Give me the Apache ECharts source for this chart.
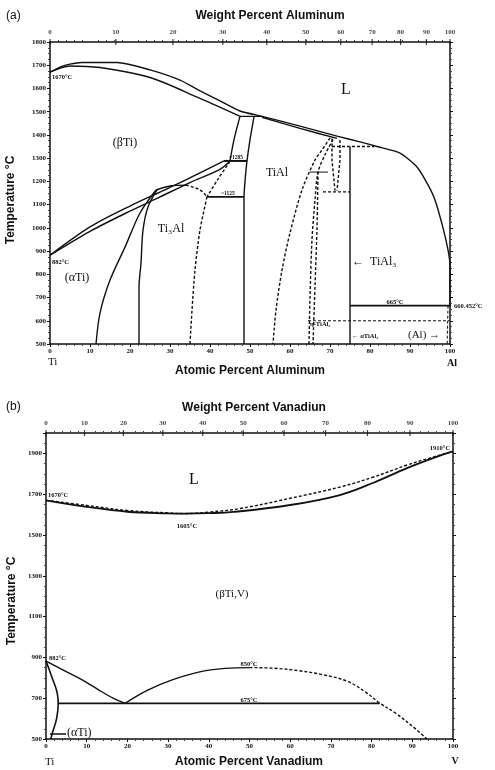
<!DOCTYPE html>
<html>
<head>
<meta charset="utf-8">
<script src="https://cdn.jsdelivr.net/npm/echarts@6/dist/echarts.min.js"></script>
<style>html,body{margin:0;padding:0;background:#fff}#chart{width:495px;height:770px}</style>
</head>
<body>
<div id="chart"></div>
<script>
// weight-percent tick labels on the top axes
var weightTicks = [0, 10, 20, 30, 40, 50, 60, 70, 80, 90, 100];

// (a) Ti-Al : [atomic % Al, temperature °C]
var alLiquidus = [[0,1670],[2.5,1692],[5,1705],[8,1712],[16.75,1712],[25,1680],[32.5,1636],[37.5,1590],[42.5,1547],[47.5,1503],[53,1480],[62.5,1438],[71.75,1395],[77.5,1370],[81.75,1350],[87.5,1322],[91.75,1262],[94.5,1185],[96.25,1120],[98.25,1000],[99.5,905],[100,840],[100,660]];
var alBetaSolidus = [[0,1670],[5,1697],[12.5,1690],[25,1647],[37.5,1557],[47.5,1480]];
var alPeritectic = [[47.5,1480],[53,1480]];
var alAlphaSolidus = [[53,1476],[62.5,1428],[71.75,1385]];
var alTransusHi = [[0,882],[10,1004],[20,1094],[27.5,1154],[35,1215],[43.5,1288]];
var alTransusLo = [[0,882],[10,985],[20,1072],[27.5,1133],[35,1195],[42.5,1252],[45,1288]];
var alAlphaBound = [[45,1288],[46,1380],[47.5,1480]];
var al1285 = [[43.5,1288],[49.25,1288]];
var alTiAlLeft = [[51,1478],[50,1380],[49.25,1288],[48.75,1200],[48.5,1133],[48.5,500]];
var alAlphaDash = [[45,1286],[42,1210],[39.25,1133]];
var al1125 = [[39.25,1133],[48.5,1133]];
var alTi3AlOuter = [[26.5,1163],[22.5,1064],[18.75,917],[15,775],[12.5,633],[11.5,500]];
var alTi3AlInner = [[26.75,1163],[24.5,1090],[23.25,990],[22.75,848],[22.25,745],[22.25,500]];
var alTi3AlTop = [[26.5,1163],[30,1180],[34,1184]];
var alTi3AlTopDash = [[34,1184],[37.5,1163],[39.25,1133]];
var alTi3AlRight = [[39.25,1133],[37.5,991],[36.25,818],[35.5,646],[35,500]];
var alTiAlRight = [[70,1387],[68,1335],[66.25,1292],[63,1163],[60,978],[58,818],[56.5,646],[55.75,500]];
var alTiAl2Left = [[70.75,1380],[68.75,1315],[67,1240],[66.25,1120],[65.5,950],[65,700],[64.75,500]];
var alTiAl2Right = [[67,1240],[66.75,1000],[66.25,750],[65.75,500]];
var alTiAl2Top = [[65,1240],[69.5,1240]];
var alZetaLeft = [[70.5,1385],[70.5,1290],[71.25,1160]];
var alZetaRight = [[72.5,1378],[72.5,1290],[71.75,1160]];
var alZetaBase = [[68.25,1155],[75,1155]];
var alTiAl3 = [[75,1350],[75,500]];
var alPeritectic2 = [[70.5,1350],[81,1350]];
var al665 = [[75,665],[100,665]];
var al600 = [[64.5,600],[100,600]];
var alSolvus = [[99.5,665],[99.3,500]];

// (b) Ti-V : [atomic % V, temperature °C]
var vLiquidus = [[0,1670],[10,1645],[20,1620],[30,1608],[34,1605],[40,1612],[47.7,1630],[60,1680],[72.2,1735],[80.3,1783],[88.7,1843],[95.1,1882],[100,1910]];
var vSolidus = [[0,1670],[10,1638],[20,1614],[30,1606],[34,1605],[40,1607],[46,1613],[60,1647],[72.2,1696],[80.3,1755],[88.7,1828],[95.1,1877],[100,1910]];
var vBetaTransus = [[0,882],[4,840],[9,789],[13,740],[16.5,700],[19.4,675]];
var vGapSolid = [[19.4,675],[25,740],[31,790],[37.5,828],[44,846],[50,850]];
var vGapDash = [[50,850],[56,847],[62,835],[68,815],[74,783],[78.5,730],[82,676],[86,625],[90,563],[93.6,500]];
var v675 = [[3,675],[82,675]];
var vAlpha = [[0,882],[1.5,800],[2.8,720],[3,675],[2.6,600],[1.5,525],[1.2,500]];

var chart = echarts.init(document.getElementById('chart'));

function wtToAtAl(w) { var a = w / 26.98, b = (100 - w) / 47.87; return 100 * a / (a + b); }
function wtToAtV(w) { var a = w / 50.94, b = (100 - w) / 47.87; return 100 * a / (a + b); }

var serif = '"Liberation Serif", "DejaVu Serif", serif';
var sans = '"Liberation Sans", Arial, sans-serif';

function line(data, g, dash, smooth, width) {
    return {
        type: 'line', xAxisIndex: g * 2, yAxisIndex: g * 2, data: data,
        showSymbol: false, symbol: 'none', silent: true, smooth: smooth || false,
        lineStyle: { color: '#111', width: width || 1.4, type: dash ? [3, 2] : 'solid' }
    };
}

function topTicks(conv, g, yTop) {
    return {
        type: 'scatter', xAxisIndex: g * 2 + 1, yAxisIndex: g * 2, silent: true, clip: false, z: 5,
        data: weightTicks.map(function (w) { return [conv(w), yTop, w]; }),
        symbol: 'rect', symbolSize: [1.2, 6], itemStyle: { color: '#111' },
        label: {
            show: true, position: 'top', distance: 3, color: '#111',
            fontSize: 7, fontFamily: serif, fontWeight: 'bold',
            formatter: function (p) { return p.data[2]; }
        }
    };
}

function plain(v) { return String(v); }

function xAx(g, pos, labels) {
    return {
        type: 'value', gridIndex: g, position: pos, min: 0, max: 100, interval: 10,
        axisLine: { show: true, onZero: false, lineStyle: { color: '#111', width: 1.5 } },
        axisTick: { show: labels, length: 3, lineStyle: { color: '#111' } },
        minorTick: { show: true, splitNumber: 5, length: 2, lineStyle: { color: '#444' } },
        axisLabel: { show: labels, formatter: plain, fontSize: 7, fontFamily: serif, fontWeight: 'bold', color: '#111', margin: 4 },
        splitLine: { show: false }
    };
}

function yAx(g, pos, min, max, step, labels) {
    return {
        type: 'value', gridIndex: g, position: pos, min: min, max: max, interval: step,
        axisLine: { show: true, onZero: false, lineStyle: { color: '#111', width: 1.5 } },
        axisTick: { show: true, length: 3, lineStyle: { color: '#111' } },
        minorTick: { show: true, splitNumber: 4, length: 2, lineStyle: { color: '#444' } },
        axisLabel: { show: labels, formatter: plain, showMaxLabel: max % step === min % step, fontSize: 7, fontFamily: serif, fontWeight: 'bold', color: '#111', margin: 4 },
        splitLine: { show: false }
    };
}

function t(x, y, s, font, align, rot) {
    return {
        type: 'text', x: x, y: y, rotation: rot || 0, silent: true, z: 100,
        style: { text: s, font: font, fill: '#111', textAlign: align || 'center', textVerticalAlign: 'middle', align: align || 'center', verticalAlign: 'middle' }
    };
}

var small = 'bold 6.5px ' + serif;

option = {
    animation: false,
    backgroundColor: '#fff',
    grid: [
        { left: 50, top: 42, width: 400, height: 302 },
        { left: 46, top: 433, width: 407, height: 306 }
    ],
    xAxis: [xAx(0, 'bottom', true), xAx(0, 'top', false), xAx(1, 'bottom', true), xAx(1, 'top', false)],
    yAxis: [
        yAx(0, 'left', 500, 1800, 100, true), yAx(0, 'right', 500, 1800, 100, false),
        yAx(1, 'left', 500, 2000, 200, true), yAx(1, 'right', 500, 2000, 200, false)
    ],
    series: [
        line(alLiquidus, 0, false, 0.2),
        line(alBetaSolidus, 0, false, 0.3),
        line(alPeritectic, 0),
        line(alAlphaSolidus, 0, false, 0.2),
        line(alTransusHi, 0, false, 0.3),
        line(alTransusLo, 0, false, 0.3),
        line(alAlphaBound, 0, false, 0.3),
        line(al1285, 0, false, false, 2),
        line(alTiAlLeft, 0, false, 0.2),
        line(alAlphaDash, 0, true, 0.3),
        line(al1125, 0, false, false, 1.8),
        line(alTi3AlOuter, 0, false, 0.3),
        line(alTi3AlInner, 0, false, 0.3),
        line(alTi3AlTop, 0, false, 0.4),
        line(alTi3AlTopDash, 0, true, 0.4),
        line(alTi3AlRight, 0, true, 0.3),
        line(alTiAlRight, 0, true, 0.3),
        line(alTiAl2Left, 0, true, 0.3),
        line(alTiAl2Right, 0, true, 0.3),
        line(alTiAl2Top, 0, false, false, 1),
        line(alZetaLeft, 0, true),
        line(alZetaRight, 0, true),
        line(alZetaBase, 0, true),
        line(alTiAl3, 0),
        line(alPeritectic2, 0, true),
        line(al665, 0, false, false, 1.8),
        line(al600, 0, true, false, 1),
        line(alSolvus, 0, true, false, 1),
        topTicks(wtToAtAl, 0, 1800),

        line(vLiquidus, 1, true, 0.4),
        line(vSolidus, 1, false, 0.4, 1.8),
        line(vBetaTransus, 1, false, 0.3),
        line(vGapSolid, 1, false, 0.4),
        line(vGapDash, 1, true, 0.4),
        line(v675, 1, false, false, 1.8),
        line(vAlpha, 1, false, 0.5, 1.6),
        topTicks(wtToAtV, 1, 2000)
    ],
    graphic: [
        t(6, 16, '(a)', '12px ' + sans, 'left'),
        t(270, 16, 'Weight Percent Aluminum', 'bold 12px ' + sans),
        t(250, 371, 'Atomic Percent Aluminum', 'bold 12px ' + sans),
        t(11, 200, 'Temperature °C', 'bold 12px ' + sans, 'center', Math.PI / 2),
        t(346, 90, 'L', '16px ' + serif),
        t(125, 143, '(βTi)', '12px ' + serif),
        t(277, 173, 'TiAl', '12px ' + serif),
        t(171, 229, 'Ti₃Al', '12px ' + serif),
        t(77, 278, '(αTi)', '12px ' + serif),
        t(52, 77, '1670°C', small, 'left'),
        t(52, 262, '882°C', small, 'left'),
        t(236, 158, '~1285', 'bold 5.5px ' + serif),
        t(228, 194, '~1125', 'bold 5.5px ' + serif),
        t(352, 262, '←', '12px ' + serif, 'left'),
        t(370, 262, 'TiAl₃', '12px ' + serif, 'left'),
        t(395, 302, '665°C', small),
        t(454, 306, '660.452°C', small, 'left'),
        t(310, 324, 'η-TiAl₂', small, 'left'),
        t(352, 336, '← αTiAl₃', small, 'left'),
        t(408, 335, '(Al) →', '11px ' + serif, 'left'),
        t(48, 362, 'Ti', '11px ' + serif, 'left'),
        t(452, 363, 'Al', 'bold 10px ' + serif),

        t(6, 407, '(b)', '12px ' + sans, 'left'),
        t(254, 408, 'Weight Percent Vanadiun', 'bold 12px ' + sans),
        t(249, 762, 'Atomic Percent Vanadium', 'bold 12px ' + sans),
        t(12, 601, 'Temperature °C', 'bold 12px ' + sans, 'center', Math.PI / 2),
        t(194, 480, 'L', '16px ' + serif),
        t(48, 495, '1670°C', small, 'left'),
        t(187, 526, '1605°C', small),
        t(440, 448, '1910°C', small),
        t(232, 594, '(βTi,V)', '11px ' + serif),
        t(49, 658, '882°C', small, 'left'),
        t(249, 664, '850°C', small),
        t(249, 700, '675°C', small),
        { type: 'line', silent: true, z: 100, shape: { x1: 50, y1: 734, x2: 66, y2: 734 }, style: { stroke: '#111', lineWidth: 1.5 } },
        t(67, 733, '(αTi)', '12px ' + serif, 'left'),
        t(45, 762, 'Ti', '11px ' + serif, 'left'),
        t(455, 761, 'V', 'bold 10px ' + serif)
    ]
};

chart.setOption(option);
</script>
</body>
</html>
